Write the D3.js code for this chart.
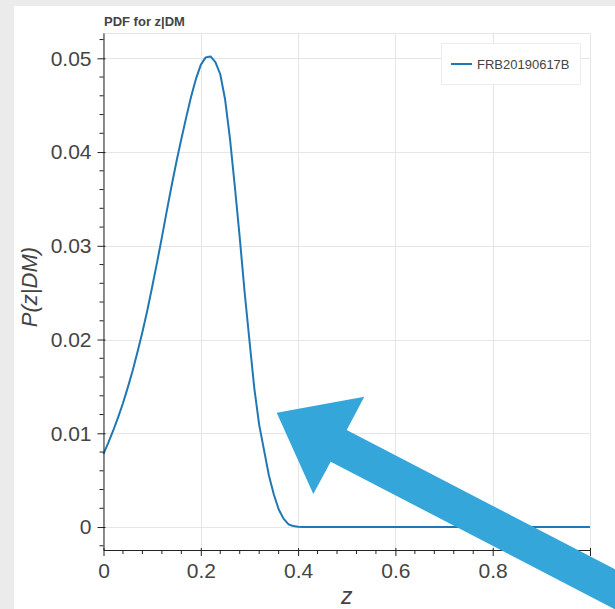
<!DOCTYPE html>
<html>
<head>
<meta charset="utf-8">
<script src="https://cdn.jsdelivr.net/npm/d3@7"></script>
<style>
  html, body { margin: 0; padding: 0; background: #ebebeb; }
  svg { display: block; }
</style>
</head>
<body>
<svg id="chart" width="615" height="609"></svg>
<script>
// Redshift grid and probability density P(z|DM)
const zValues = [
  0.00, 0.01, 0.02, 0.03, 0.04, 0.05, 0.06, 0.07, 0.08, 0.09,
  0.10, 0.11, 0.12, 0.13, 0.14, 0.15, 0.16, 0.17, 0.18, 0.19,
  0.20, 0.21, 0.22, 0.23, 0.24, 0.25, 0.26, 0.27, 0.28, 0.29,
  0.30, 0.31, 0.32, 0.33, 0.34, 0.35, 0.36, 0.37, 0.38, 0.39,
  0.40, 0.41, 0.42, 0.45, 0.50, 0.55, 0.60, 0.65, 0.70, 0.75,
  0.80, 0.85, 0.90, 0.95, 1.00
];
const pdfValues = [
  0.0078, 0.0090, 0.0103, 0.0117, 0.0132, 0.0149, 0.0167, 0.0187, 0.0208, 0.0231,
  0.0256, 0.0282, 0.0309, 0.0337, 0.0364, 0.0390, 0.0414, 0.0437, 0.0459, 0.0478,
  0.0493, 0.0501, 0.0502, 0.0496, 0.0483, 0.0456, 0.0414, 0.0363, 0.0309, 0.0251,
  0.0199, 0.0148, 0.0109, 0.0082, 0.0055, 0.0035, 0.0019, 0.0009, 0.0003, 0.0001,
  0.00003, 0.00001, 0, 0, 0, 0, 0, 0, 0, 0,
  0, 0, 0, 0, 0
];
const seriesName = "FRB20190617B";
const titleText = "PDF for z|DM";
const xLabel = "z";
const yLabel = "P(z|DM)";
const xTicks = [0, 0.2, 0.4, 0.6, 0.8, 1.0];
const yTicks = [0, 0.01, 0.02, 0.03, 0.04, 0.05];

const svg = d3.select("#chart");
const lineColor = "#1f77b4";
const gridColor = "#e6e6e6";
const textColor = "#444";
const fontFamily = "Liberation Sans, Arial, sans-serif";

// white panel
svg.append("rect").attr("x", 14).attr("y", 6).attr("width", 615).attr("height", 620).attr("fill", "#fff");

const plotL = 103.5, plotR = 590, plotT = 33, plotB = 550;
const x = d3.scaleLinear().domain([0, 1]).range([plotL, plotR]);
const y = d3.scaleLinear().domain([-0.00245, 0.0527]).range([plotB, plotT]);

// grid
const grid = svg.append("g");
grid.selectAll(".gx").data(xTicks.filter(t => t > 0 && t < 1)).join("line")
  .attr("x1", d => Math.round(x(d)) + 0.5).attr("x2", d => Math.round(x(d)) + 0.5)
  .attr("y1", plotT).attr("y2", plotB).attr("stroke", gridColor);
grid.selectAll(".gy").data(yTicks).join("line")
  .attr("y1", d => Math.round(y(d)) + 0.5).attr("y2", d => Math.round(y(d)) + 0.5)
  .attr("x1", plotL).attr("x2", plotR).attr("stroke", gridColor);
// outline
svg.append("rect").attr("x", plotL).attr("y", plotT + 0.5).attr("width", plotR - plotL + 0.5).attr("height", plotB - plotT)
  .attr("fill", "none").attr("stroke", gridColor);

// curve
const line = d3.line().x((d, i) => x(zValues[i])).y(d => y(d));
svg.append("path").datum(pdfValues).attr("d", line)
  .attr("fill", "none").attr("stroke", lineColor).attr("stroke-width", 2)
  .attr("stroke-linejoin", "round");

// axes
const fmt = d => d === 0 ? "0" : d3.format("~g")(d);
const xAxis = d3.axisBottom(x).tickValues(xTicks).tickFormat(fmt).tickSizeInner(6).tickSizeOuter(0).tickPadding(6);
const gx = svg.append("g").attr("transform", `translate(0,${plotB})`).call(xAxis);
gx.select(".domain").attr("stroke", "#222");
gx.selectAll(".tick line").attr("stroke", "#222").attr("y1", -2);
gx.selectAll(".tick text").attr("fill", textColor).attr("font-family", fontFamily).attr("font-size", 21).attr("dy", "0.75em");
gx.selectAll(".minor").data(d3.range(0, 1.0001, 0.04).filter(v => Math.abs(v / 0.2 - Math.round(v / 0.2)) > 1e-6)).join("line")
  .attr("x1", d => x(d)).attr("x2", d => x(d)).attr("y1", 0).attr("y2", 4).attr("stroke", "#222");

const yAxis = d3.axisLeft(y).tickValues(yTicks).tickFormat(fmt).tickSizeInner(6).tickSizeOuter(0).tickPadding(6);
const gy = svg.append("g").attr("transform", `translate(${plotL},0)`).call(yAxis);
gy.select(".domain").attr("stroke", "#222");
gy.selectAll(".tick line").attr("stroke", "#222").attr("x1", 2);
gy.selectAll(".tick text").attr("fill", textColor).attr("font-family", fontFamily).attr("font-size", 21);
gy.selectAll(".minor").data(d3.range(-0.002, 0.0521, 0.002).filter(v => Math.abs(v / 0.01 - Math.round(v / 0.01)) > 1e-6)).join("line")
  .attr("x1", 0).attr("x2", -4).attr("y1", d => y(d)).attr("y2", d => y(d)).attr("stroke", "#222");

// labels
svg.append("text").attr("x", plotL + 0.5).attr("y", 26).text(titleText)
  .attr("font-family", fontFamily).attr("font-weight", "bold").attr("font-size", 13).attr("fill", textColor);
svg.append("text").attr("x", (plotL + plotR) / 2).attr("y", 604).attr("text-anchor", "middle").text(xLabel)
  .attr("font-family", fontFamily).attr("font-style", "italic").attr("font-size", 23).attr("fill", textColor);
svg.append("text").attr("transform", "translate(37,287) rotate(-90)").attr("text-anchor", "middle").text(yLabel)
  .attr("font-family", fontFamily).attr("font-style", "italic").attr("font-size", 22).attr("fill", textColor);

// legend
const lg = svg.append("g");
lg.append("rect").attr("x", 441.5).attr("y", 43.5).attr("width", 139).attr("height", 41)
  .attr("fill", "#fff").attr("stroke", "#ececec");
lg.append("line").attr("x1", 451).attr("x2", 472).attr("y1", 64).attr("y2", 64).attr("stroke", lineColor).attr("stroke-width", 2);
lg.append("text").attr("x", 477).attr("y", 69).text(seriesName)
  .attr("font-family", fontFamily).attr("font-size", 13).attr("fill", textColor);

// pointer arrow
const arrowPts = [[276.7, 412.7], [364.3, 396.7], [346.7, 430], [700, 613.5], [700, 653.5], [330.7, 461.7], [313.3, 494]];
svg.append("polygon").attr("points", arrowPts.map(p => p.join(",")).join(" ")).attr("fill", "#34a6da");
</script>
</body>
</html>
